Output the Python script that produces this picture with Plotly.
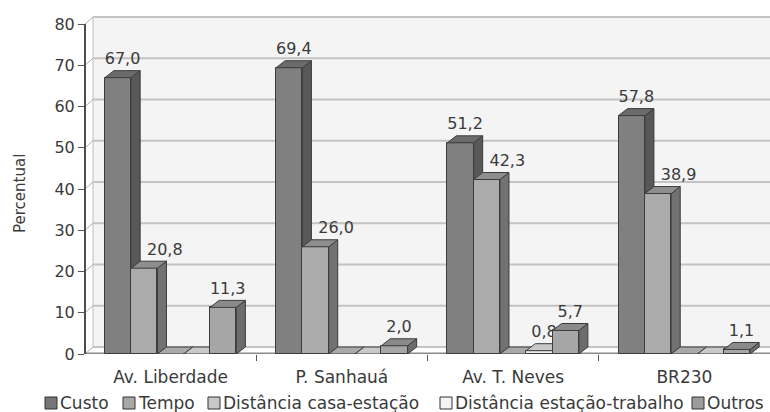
import plotly.graph_objects as go

# ---- data -------------------------------------------------------------
categories = ["Av. Liberdade", "P. Sanhauá", "Av. T. Neves", "BR230"]
series_names = ["Custo", "Tempo", "Distância casa-estação",
                "Distância estação-trabalho", "Outros"]
custo = [67.0, 69.4, 51.2, 57.8]
tempo = [20.8, 26.0, 42.3, 38.9]
dist_casa_estacao = [0.0, 0.0, 0.0, 0.0]
dist_estacao_trabalho = [0.0, 0.0, 0.8, 0.0]
outros = [11.3, 2.0, 5.7, 1.1]
y_ticks = [0, 10, 20, 30, 40, 50, 60, 70, 80]

series_values = [custo, tempo, dist_casa_estacao, dist_estacao_trabalho, outros]

# ---- styling ----------------------------------------------------------
FONT = "DejaVu Sans"
TEXT = "#3a3a3a"
EDGE = "#3c3c3c"
front_colors = ["#808080", "#ababab", "#c6c6c6", "#ededed", "#a6a6a6"]
side_colors = ["#585858", "#727272", "#8c8c8c", "#a5a5a5", "#6c6c6c"]
top_colors = ["#6b6b6b", "#8e8e8e", "#a9a9a9", "#c9c9c9", "#8a8a8a"]
legend_colors = ["#767676", "#a8a8a8", "#c8c8c8", "#f3f3f3", "#9c9c9c"]
# horizontal nudge (px) of the value labels, per series
label_shift_px = [0, 16, 0, 0, 0]

W, H = 770, 412
ML, MR, MT, MB = 85, 0, 15, 58
plot_w = W - ML - MR
plot_h = H - MT - MB
px_per_unit_y = 4.125
y_max = plot_h / px_per_unit_y
x_min, x_max = -0.5, len(categories) - 0.5
px_per_unit_x = plot_w / (x_max - x_min)

# 3-D depth of the bars and of the back wall
dx = 9 / px_per_unit_x
dy = 7 / px_per_unit_y
wall_dx_paper = 8 / plot_w
bar_w = 0.1536
n_series = len(series_names)


def px_x(px):
    return (px - ML) / plot_w


def px_y(py):
    return (H - MB - py) / plot_h


def fmt(v):
    return f"{v:.1f}".replace(".", ",")


fig = go.Figure()

for i, (name, vals) in enumerate(zip(series_names, series_values)):
    sfx = "" if i == 0 else str(i + 1)
    xa, ya = "x" + sfx, "y" + sfx
    xs = [k + (i - (n_series - 1) / 2) * bar_w for k in range(len(categories))]

    # front faces
    fig.add_trace(go.Bar(
        x=xs, y=vals, width=bar_w, name=name,
        marker=dict(color=front_colors[i], line=dict(color=EDGE, width=1)),
        xaxis=xa, yaxis=ya, showlegend=False,
    ))

    # side and top faces
    sx, sy, tx, ty = [], [], [], []
    for xc, v in zip(xs, vals):
        l, r = xc - bar_w / 2, xc + bar_w / 2
        sx += [r, r + dx, r + dx, r, r, None]
        sy += [0, dy, v + dy, v, 0, None]
        tx += [l, l + dx, r + dx, r, l, None]
        ty += [v, v + dy, v + dy, v, v, None]
    fig.add_trace(go.Scatter(
        x=sx, y=sy, mode="lines", fill="toself", fillcolor=side_colors[i],
        line=dict(color=EDGE, width=1), hoverinfo="skip",
        xaxis=xa, yaxis=ya, showlegend=False,
    ))
    fig.add_trace(go.Scatter(
        x=tx, y=ty, mode="lines", fill="toself", fillcolor=top_colors[i],
        line=dict(color=EDGE, width=1), hoverinfo="skip",
        xaxis=xa, yaxis=ya, showlegend=False,
    ))

    # value labels
    shift = label_shift_px[i] / px_per_unit_x
    lx = [xc + dx / 2 + shift for xc, v in zip(xs, vals) if v > 0]
    ly = [v + dy + 0.6 for v in vals if v > 0]
    lt = [fmt(v) for v in vals if v > 0]
    fig.add_trace(go.Scatter(
        x=lx, y=ly, text=lt, mode="text", textposition="top center",
        textfont=dict(family=FONT, size=16, color=TEXT),
        hoverinfo="skip", cliponaxis=False,
        xaxis=xa, yaxis=ya, showlegend=False,
    ))

# ---- back wall, grid, floor and axis line -----------------------------
shapes = [
    dict(type="rect", xref="paper", yref="y", x0=wall_dx_paper, x1=1,
         y0=dy, y1=y_ticks[-1] + dy, fillcolor="#f4f4f4",
         line=dict(width=0), layer="below"),
    dict(type="line", xref="paper", yref="y", x0=wall_dx_paper, x1=wall_dx_paper,
         y0=dy, y1=y_ticks[-1] + dy, line=dict(color="#bdbdbd", width=1),
         layer="below"),
]
for t in y_ticks:
    shapes.append(dict(type="line", xref="paper", yref="y", x0=wall_dx_paper,
                       x1=1, y0=t + dy, y1=t + dy,
                       line=dict(color="#c3c3c3", width=2), layer="below"))
    shapes.append(dict(type="line", xref="paper", yref="y", x0=0,
                       x1=wall_dx_paper, y0=t, y1=t + dy,
                       line=dict(color="#b0b0b0", width=1), layer="below"))
shapes.append(dict(type="line", xref="paper", yref="y", x0=0, x1=1, y0=0, y1=0,
                   line=dict(color="#8a8a8a", width=3), layer="below"))
shapes.append(dict(type="line", xref="paper", yref="y", x0=0, x1=0,
                   y0=0, y1=y_ticks[-1], line=dict(color="#4d4d4d", width=2),
                   layer="below"))

# ---- legend row --------------------------------------------------------
annotations = []
legend_left = [45, 123, 208, 440, 692]
for name, col, x0 in zip(series_names, legend_colors, legend_left):
    shapes.append(dict(type="rect", xref="paper", yref="paper",
                       x0=px_x(x0), x1=px_x(x0 + 12), y0=px_y(409), y1=px_y(397),
                       fillcolor=col, line=dict(color="#333333", width=1)))
    annotations.append(dict(xref="paper", yref="paper", x=px_x(x0 + 13),
                            y=px_y(403), text=name, showarrow=False,
                            xanchor="left", yanchor="middle",
                            font=dict(family=FONT, size=17, color=TEXT)))

annotations.append(dict(xref="paper", yref="paper", x=px_x(20), y=px_y(194),
                        text="Percentual", textangle=-90, showarrow=False,
                        xanchor="center", yanchor="middle",
                        font=dict(family=FONT, size=15, color=TEXT)))

layout_axes = dict(
    xaxis=dict(domain=[0, 1], range=[x_min, x_max], tickmode="array",
               tickvals=list(range(len(categories))), ticktext=categories,
               ticks="", showgrid=False, zeroline=False, showline=False,
               ticklabelstandoff=11,
               tickfont=dict(family=FONT, size=17, color=TEXT),
               minor=dict(tickmode="array", tickvals=[k + 0.5 for k in range(len(categories) - 1)],
                          ticks="outside", ticklen=6, tickcolor="#555555",
                          showgrid=False)),
    yaxis=dict(domain=[0, 1], range=[0, y_max], tickmode="array",
               tickvals=y_ticks, ticks="outside", ticklen=6,
               tickcolor="#555555", showgrid=False, zeroline=False,
               showline=False,
               tickfont=dict(family=FONT, size=16, color=TEXT)),
)
for i in range(1, n_series):
    sfx = str(i + 1)
    layout_axes["xaxis" + sfx] = dict(overlaying="x", matches="x", anchor="y" + sfx,
                                      range=[x_min, x_max], visible=False)
    layout_axes["yaxis" + sfx] = dict(overlaying="y", matches="y", anchor="x" + sfx,
                                      range=[0, y_max], visible=False)

fig.update_layout(
    width=W, height=H,
    margin=dict(l=ML, r=MR, t=MT, b=MB),
    paper_bgcolor="white", plot_bgcolor="white",
    shapes=shapes, annotations=annotations,
    showlegend=False, bargap=0,
    **layout_axes,
)

fig.write_html("out.html")
